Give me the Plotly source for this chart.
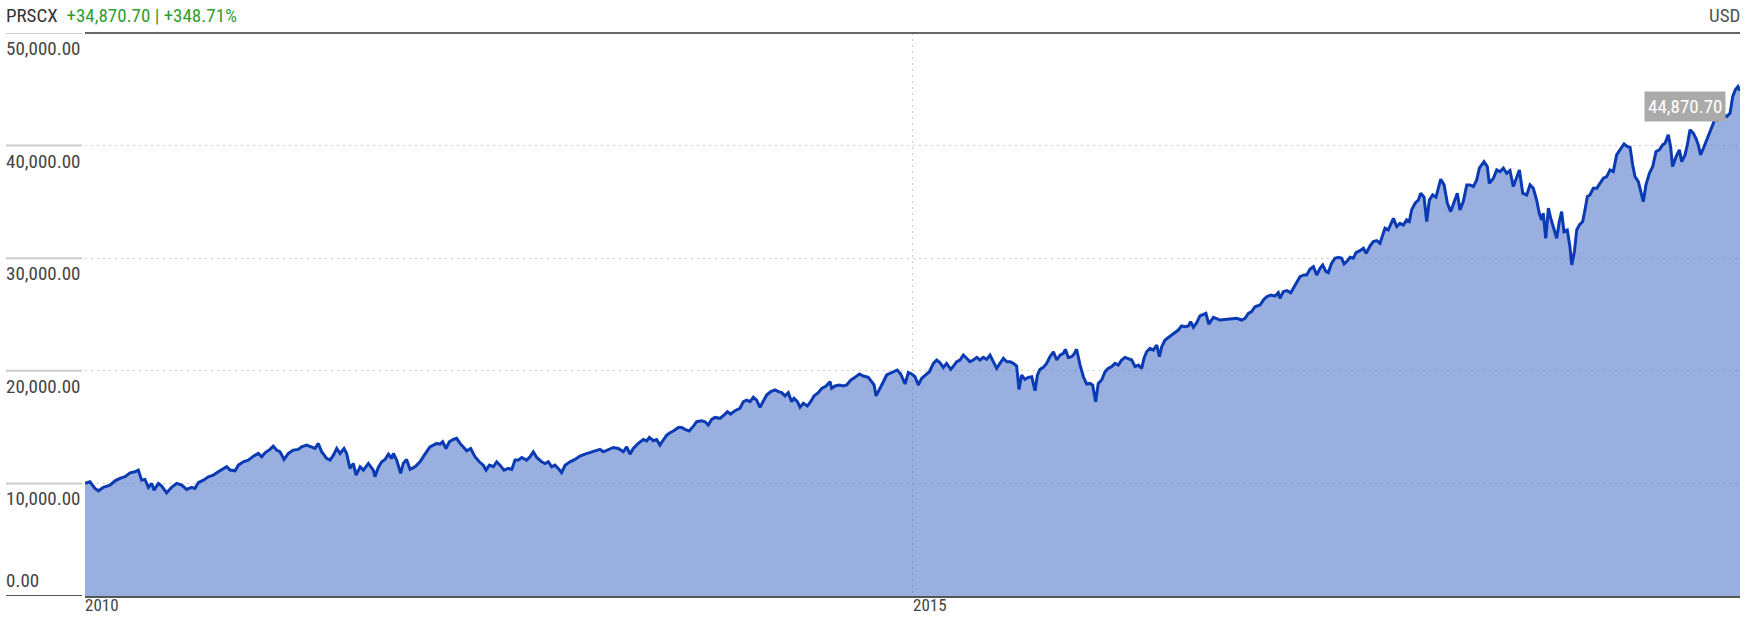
import numpy as np
import pandas as pd
import plotly.graph_objects as go

ticker = "PRSCX"
change_text = "+34,870.70"
pct_text = "+348.71%"
currency = "USD"
last_label = "44,870.70"

# decimal years and growth-of-10k values
years = [
2010.000,2010.030,2010.060,2010.081,2010.111,2010.151,2010.181,2010.211,2010.242,2010.272,
2010.302,2010.322,2010.342,2010.362,2010.383,2010.403,2010.417,2010.443,2010.463,2010.493,
2010.523,2010.554,2010.584,2010.614,2010.644,2010.664,2010.684,2010.715,2010.745,2010.775,
2010.805,2010.835,2010.856,2010.876,2010.906,2010.926,2010.956,2010.986,2011.017,2011.047,
2011.067,2011.087,2011.117,2011.137,2011.157,2011.178,2011.202,2011.228,2011.258,2011.288,
2011.308,2011.339,2011.369,2011.389,2011.409,2011.429,2011.459,2011.480,2011.500,2011.520,
2011.540,2011.564,2011.580,2011.600,2011.620,2011.637,2011.661,2011.681,2011.711,
2011.741,2011.751,2011.771,2011.792,2011.812,2011.832,2011.852,2011.862,2011.882,2011.906,
2011.922,2011.942,2011.963,2011.993,2012.023,2012.053,2012.083,2012.104,2012.124,2012.144,
2012.160,2012.180,2012.200,2012.224,2012.244,2012.265,2012.285,2012.305,2012.329,2012.355,
2012.381,2012.405,2012.422,2012.442,2012.466,2012.486,2012.506,2012.530,2012.556,2012.577,
2012.597,2012.617,2012.637,2012.667,2012.687,2012.707,2012.728,2012.758,2012.778,2012.798,
2012.818,2012.838,2012.858,2012.878,2012.899,2012.929,2012.959,2012.989,2013.019,2013.050,
2013.080,2013.110,2013.130,2013.160,2013.190,2013.221,2013.251,2013.271,2013.291,2013.311,
2013.341,2013.372,2013.392,2013.408,
2013.432,2013.452,2013.472,2013.492,2013.513,2013.533,2013.553,2013.583,2013.603,2013.623,
2013.649,2013.674,2013.694,2013.724,2013.744,2013.764,2013.784,2013.804,2013.835,2013.865,
2013.879,2013.899,2013.925,2013.955,2013.976,2013.996,2014.016,2014.036,2014.056,2014.076,
2014.096,2014.116,2014.141,2014.167,2014.187,2014.207,2014.227,2014.247,2014.267,2014.281,
2014.302,2014.318,2014.338,2014.362,2014.382,2014.402,2014.428,2014.449,2014.475,2014.499,
2014.509,2014.529,2014.555,2014.579,2014.600,2014.624,2014.650,2014.676,2014.700,2014.730,
2014.750,2014.765,2014.777,2014.797,2014.821,2014.841,2014.865,2014.885,2014.905,2014.926,
2014.952,2014.972,2014.992,2015.012,2015.032,2015.052,2015.079,2015.099,
2015.123,2015.143,2015.163,2015.183,2015.203,2015.228,2015.244,2015.264,2015.284,2015.304,
2015.324,2015.344,2015.364,2015.385,2015.405,2015.425,2015.445,2015.465,2015.485,2015.505,
2015.525,2015.546,2015.566,2015.586,2015.606,2015.626,2015.640,2015.656,2015.676,2015.697,
2015.717,2015.737,2015.751,2015.767,2015.787,2015.807,2015.827,2015.848,2015.868,2015.888,
2015.908,2015.920,2015.938,2015.958,2015.972,2015.988,2016.009,2016.029,2016.049,2016.069,
2016.085,2016.103,2016.119,2016.139,2016.160,2016.180,2016.200,2016.220,2016.240,2016.260,
2016.280,2016.300,2016.321,2016.341,2016.361,2016.381,2016.395,2016.411,2016.431,2016.451,
2016.472,2016.488,2016.502,2016.522,2016.542,2016.562,2016.582,2016.602,2016.622,2016.643,
2016.663,2016.677,2016.693,2016.713,2016.733,2016.753,2016.769,2016.786,
2016.814,2016.854,2016.894,2016.934,2016.955,2016.985,2017.005,2017.025,2017.045,2017.065,
2017.096,2017.116,2017.136,2017.160,2017.186,2017.206,2017.216,2017.236,2017.257,2017.281,
2017.297,2017.317,2017.337,2017.361,2017.377,2017.397,2017.418,2017.438,2017.458,2017.474,
2017.494,2017.508,2017.528,2017.548,2017.569,2017.589,2017.603,2017.619,2017.639,2017.659,
2017.675,2017.699,2017.720,2017.736,2017.760,2017.780,2017.800,2017.820,2017.836,2017.850,
2017.870,2017.885,2017.901,2017.921,2017.941,2017.961,2017.981,2017.997,2018.011,2018.032,
2018.052,2018.066,2018.086,2018.102,2018.118,2018.138,2018.158,2018.172,2018.187,2018.207,
2018.227,2018.247,2018.267,2018.287,2018.303,2018.323,2018.344,2018.364,2018.384,2018.404,
2018.420,2018.448,2018.468,2018.480,
2018.505,2018.525,2018.545,2018.565,2018.585,2018.605,2018.625,2018.645,2018.662,2018.682,
2018.706,2018.726,2018.746,2018.766,2018.782,2018.796,2018.806,2018.821,2018.837,2018.851,
2018.867,2018.887,2018.903,2018.917,2018.931,2018.951,2018.967,2018.978,2018.994,2019.008,
2019.024,2019.044,2019.058,2019.072,2019.088,2019.108,2019.129,2019.149,2019.169,2019.189,
2019.209,2019.229,2019.249,2019.269,2019.294,2019.314,2019.330,2019.346,2019.360,2019.380,
2019.394,2019.410,2019.426,2019.447,2019.467,2019.487,2019.507,2019.527,2019.541,2019.561,
2019.575,2019.587,2019.608,2019.628,2019.642,2019.662,2019.676,2019.692,2019.712,2019.728,
2019.742,2019.756,2019.773,2019.789,2019.803,2019.819,2019.833,2019.843,2019.857,2019.873,
2019.893,2019.914,2019.934,2019.950,2019.966,2019.982,2019.994,
]

values = [
10000,10140,9550,9340,9650,9850,10230,10450,10600,10940,
11030,11180,10290,10350,9650,10000,9400,10000,9760,9160,
9650,10000,9850,9460,9650,9550,10060,10290,10590,10740,
11030,11330,11480,11180,11120,11620,11920,12070,12420,12660,
12370,12720,13020,13310,12960,12810,12130,12660,12960,13020,
13250,13400,13250,13100,13550,12810,12220,12070,12510,13100,
12660,13100,12660,11330,11770,10740,11480,11180,11770,
11180,10590,11420,11920,12130,12600,12210,12660,12070,10890,
11770,12130,11240,11480,11920,12600,13250,13400,13550,13490,
13700,13100,13700,13900,14000,13550,13250,12900,13100,12370,
11920,11620,11180,11620,11480,11920,11620,11180,11330,11240,
12070,12070,12300,12070,12370,12810,12300,11920,11770,11920,
11480,11620,11330,10950,11620,11920,12130,12430,12600,12720,
12900,13020,12810,13020,13190,13100,12810,13250,12600,13100,
13550,13900,13780,14080,
13790,13900,13400,13850,14290,14500,14650,14970,14970,14800,
14650,15090,15480,15570,15480,15180,15690,15860,15780,16160,
16370,16160,16460,16670,17260,17400,17260,17650,17400,16760,
17350,17850,18150,18300,18150,18060,17770,18060,17260,17550,
17260,16760,17110,16870,17260,17770,18060,18440,18650,19030,
18440,18650,18740,18650,18740,19180,19420,19720,19540,19420,
19030,18740,17770,18300,19030,19630,19780,19920,20070,19720,
18830,19840,19720,19480,18740,19330,19630,19920,
20660,20960,20720,20300,20660,20130,20420,20810,20960,21400,
21110,20810,20960,21190,20960,21190,21020,21400,20810,20220,
20660,21110,20810,20810,20660,20420,18350,19620,19240,19420,
19470,18230,19620,20130,20300,20660,21250,21690,20960,21400,
21550,21910,21190,21250,21480,21910,20510,19470,18820,18880,
18720,17250,18880,19180,19920,20220,20370,20660,20510,20960,
21190,21110,20960,20370,20510,20220,21110,21690,21990,21840,
22290,21250,22140,22730,22970,23180,23380,23620,23980,23920,
23980,24360,23860,24270,24870,24960,25100,24150,
24750,24510,24570,24570,24660,24510,24660,25100,25250,25690,
25840,26290,26580,26730,26640,26940,26430,27030,27120,26940,
27330,27920,28360,28510,28510,29010,29250,28510,29100,29400,
28810,28720,29550,29990,30080,29990,29490,29700,30080,29990,
30490,30670,30880,30430,31090,31470,31560,31330,32060,32660,
32510,32950,33550,32810,33100,32950,33400,33250,34290,34880,
35170,35770,35420,33250,35170,35620,35420,36210,37010,36510,
34880,34140,35030,35770,34290,35030,36510,36510,36360,36950,
37990,38580,38140,36660,
37100,37840,37690,37990,37540,37790,36360,37250,37840,35770,
35620,36510,36210,35170,33990,33400,33990,31770,34440,33550,
32800,31770,33250,34140,32360,32510,31030,29400,30590,32510,
32950,33250,34290,35470,35620,36210,36210,36660,37100,37250,
37840,37690,39170,39620,40150,39910,39850,38280,37250,36800,
36060,35020,36510,37550,38140,39470,39620,40060,40210,40950,
39910,38140,39020,39620,38580,39170,40060,41400,41100,40650,
40060,39170,39760,40360,40800,41550,41990,42580,42290,42580,
42730,42580,42880,44360,44950,45240,44870.70,
]

y_tick_vals = [0, 10000, 20000, 30000, 40000, 50000]
y_tick_text = ["0.00", "10,000.00", "20,000.00", "30,000.00", "40,000.00", "50,000.00"]
x_tick_vals = ["2010-01-01", "2015-01-01"]
x_tick_text = ["2010", "2015"]

yrs = np.array(years)
dates = pd.Timestamp("2010-01-01") + pd.to_timedelta((yrs - 2010.0) * 365.25, unit="D")

FONT = "Roboto Condensed, Liberation Sans Narrow, Arial Narrow, DejaVu Sans Condensed, Roboto, sans-serif"
LINE = "#0a3bb5"
FILL = "rgba(49,95,193,0.5)"

fig = go.Figure()
fig.add_trace(go.Scatter(
    x=dates, y=values, mode="lines",
    line=dict(color=LINE, width=3),
    fill="tozeroy", fillcolor=FILL,
    hoverinfo="skip", showlegend=False,
))

annotations = []
shapes = []
for v, t in zip(y_tick_vals, y_tick_text):
    annotations.append(dict(
        text=t, xref="paper", x=0, xanchor="left", xshift=-81,
        yref="y", y=v, yanchor="bottom" if v == 0 else "top",
        yshift=2 if v == 0 else -2, showarrow=False,
        font=dict(family=FONT, size=19, color="#444"),
    ))
    shapes.append(dict(
        type="line", xref="paper", xsizemode="pixel", xanchor=0, x0=-79, x1=-3,
        yref="y", y0=v, y1=v,
        line=dict(color="#555" if v == 0 else "#cccccc", width=2),
    ))

# x-axis labels, left-aligned at their tick
for d, t in zip(x_tick_vals, x_tick_text):
    annotations.append(dict(
        text=t, xref="x", x=d, xanchor="left", xshift=-2,
        yref="paper", y=0, yanchor="top", yshift=3, showarrow=False,
        font=dict(family=FONT, size=17, color="#444"),
    ))

# top border
shapes.append(dict(type="line", xref="paper", x0=0, x1=1, yref="paper", y0=1, y1=1,
                   line=dict(color="#666", width=2)))

annotations.append(dict(
    text=f"<span style='color:#333'>{ticker}</span>  <span style='color:#2f9e2f'>{change_text} | {pct_text}</span>",
    xref="paper", x=0, xanchor="left", xshift=-81,
    yref="paper", y=1, yanchor="bottom", yshift=4, showarrow=False,
    font=dict(family=FONT, size=19, color="#333"),
))
annotations.append(dict(
    text=currency, xref="paper", x=1, xanchor="right", xshift=2,
    yref="paper", y=1, yanchor="bottom", yshift=4, showarrow=False,
    font=dict(family=FONT, size=19, color="#555"),
))
annotations.append(dict(
    text=last_label, x=dates[-1], y=values[-1], xref="x", yref="y",
    xanchor="right", yanchor="top", xshift=-14, yshift=0, showarrow=False,
    bgcolor="#aaaaaa", borderpad=3,
    font=dict(family=FONT, size=19, color="#ffffff"),
))

fig.update_layout(
    width=1750, height=617,
    margin=dict(l=85, r=10, t=33, b=21, autoexpand=False),
    paper_bgcolor="white", plot_bgcolor="white",
    annotations=annotations, shapes=shapes,
    xaxis=dict(
        type="date", range=[dates[0], dates[-1]], automargin=False,
        tickvals=x_tick_vals, showticklabels=False, ticks="",
        showgrid=True, gridcolor="#cccccc", gridwidth=1, griddash="2px,4px",
        showline=True, linecolor="#555", linewidth=2,
        zeroline=False, fixedrange=True,
    ),
    yaxis=dict(
        range=[0, 50000], tickvals=y_tick_vals, showticklabels=False, ticks="",
        automargin=False,
        showgrid=True, gridcolor="#cccccc", gridwidth=1, griddash="2px,4px",
        zeroline=False, showline=False, fixedrange=True,
    ),
)

# remove the default 8px page margin so the figure sits at the window's top-left corner
fig.write_html(
    "out.html",
    config={"displayModeBar": False, "staticPlot": True},
    post_script="document.body.style.margin='0';document.body.style.overflow='hidden';",
)
